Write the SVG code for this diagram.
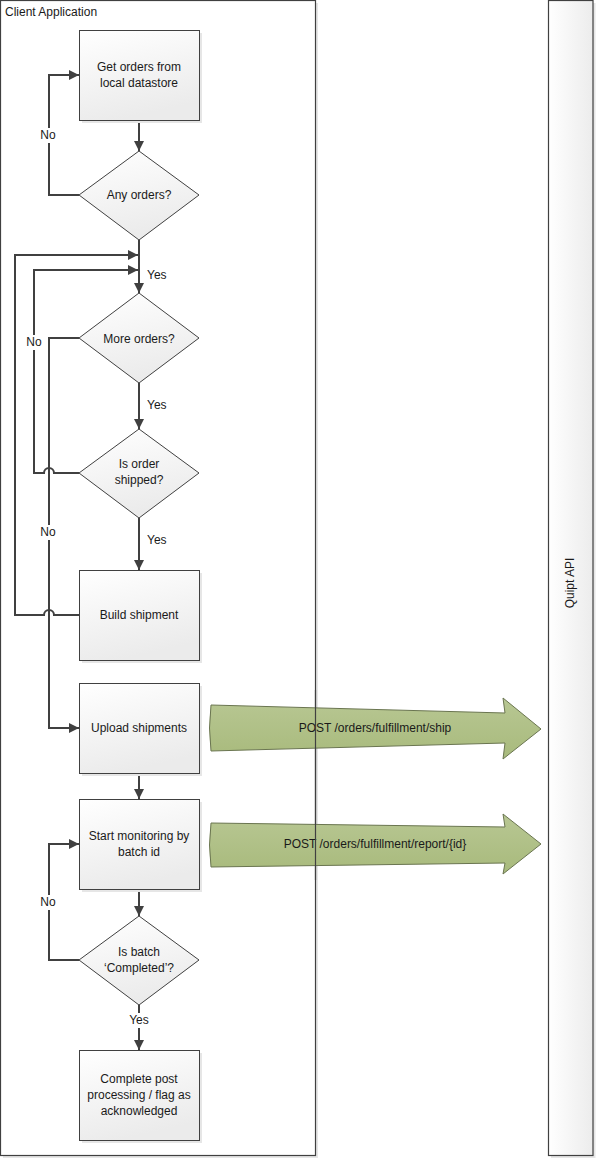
<svg xmlns="http://www.w3.org/2000/svg" width="596" height="1159" viewBox="0 0 596 1159">
<defs>
<linearGradient id="gBox" x1="0" y1="0" x2="0.3" y2="1">
<stop offset="0" stop-color="#ffffff"/>
<stop offset="1" stop-color="#ebebeb"/>
</linearGradient>
<linearGradient id="gLane" x1="0" y1="0" x2="1" y2="0">
<stop offset="0" stop-color="#ffffff"/>
<stop offset="1" stop-color="#ececec"/>
</linearGradient>
<linearGradient id="gGreen" x1="0" y1="0" x2="0" y2="1">
<stop offset="0" stop-color="#b8c793"/>
<stop offset="1" stop-color="#a8ba7c"/>
</linearGradient>
<marker id="ah" viewBox="0 0 10 10" refX="10" refY="5" markerWidth="10" markerHeight="10" markerUnits="userSpaceOnUse" orient="auto">
<path d="M0,0 L10,5 L0,10 Z" fill="#404040"/>
</marker>
<style>
text{font-family:"Liberation Sans",Arial,sans-serif;font-size:12px;fill:#1a1a1a}
.c{text-anchor:middle}
.node{fill:url(#gBox);stroke:#404040;stroke-width:1}
.shadow{fill:#e6e6e6}
.conn{fill:none;stroke:#404040;stroke-width:2}
.lbl{fill:#ffffff}
.green{fill:url(#gGreen);stroke:#6a7550;stroke-width:1}
</style>
</defs>

<g id="lane-client">
<rect x="3" y="3" width="315" height="1155" class="shadow"/>
<rect x="0.5" y="0.5" width="315" height="1155" fill="#ffffff" stroke="#404040" stroke-width="1.2"/>
<text x="5" y="16">Client Application</text>
</g>
<g id="lane-quipt">
<rect x="551" y="3" width="44.5" height="1155" class="shadow"/>
<rect x="548.5" y="0.5" width="44.5" height="1155" fill="url(#gLane)" stroke="#404040" stroke-width="1.2"/>
<text class="c" transform="translate(574,583) rotate(-90)">Quipt API</text>
</g>

<g id="api-arrows">
<g id="api-ship">
<path class="green" d="M211,705 L505,713 L503,698 L541,729 L503,759 L505,743 L211,751 Q208,728 211,705 Z"/>
<text class="c" x="375" y="732">POST /orders/fulfillment/ship</text>
</g>
<g id="api-report">
<path class="green" d="M211,823 L505,827 L503,814 L541,844 L503,874 L505,863 L211,867 Q208,845 211,823 Z"/>
<text class="c" x="375" y="848">POST /orders/fulfillment/report/{id}</text>
</g>
</g>
<line x1="315.5" y1="690" x2="315.5" y2="880" stroke="#404040" stroke-width="1.2"/>

<g id="connectors">
<line class="conn" x1="139" y1="120" x2="139" y2="151" marker-end="url(#ah)"/>
<polyline class="conn" points="79,195 49,195 49,75 79,75" marker-end="url(#ah)"/>
<line class="conn" x1="139" y1="240" x2="139" y2="293" marker-end="url(#ah)"/>
<line class="conn" x1="139" y1="383" x2="139" y2="429" marker-end="url(#ah)"/>
<line class="conn" x1="139" y1="518" x2="139" y2="570" marker-end="url(#ah)"/>
<path class="conn" d="M79,473 L54,473 A5,5 0 0 0 44,473 L34,473 L34,270 L138,270" marker-end="url(#ah)"/>
<path class="conn" d="M79,615 L54,615 A5,5 0 0 0 44,615 L15,615 L15,255 L138,255" marker-end="url(#ah)"/>
<polyline class="conn" points="79,338 49,338 49,728 79,728" marker-end="url(#ah)"/>
<line class="conn" x1="139" y1="773" x2="139" y2="799" marker-end="url(#ah)"/>
<line class="conn" x1="139" y1="889" x2="139" y2="916" marker-end="url(#ah)"/>
<polyline class="conn" points="79,960 49,960 49,844 79,844" marker-end="url(#ah)"/>
<line class="conn" x1="139" y1="1005" x2="139" y2="1050" marker-end="url(#ah)"/>
<rect class="lbl" x="38" y="128" width="22" height="15"/>
<text class="c" x="48" y="139">No</text>
<rect class="lbl" x="23" y="335" width="22" height="15"/>
<text class="c" x="34" y="346">No</text>
<rect class="lbl" x="38" y="525" width="22" height="15"/>
<text class="c" x="48" y="536">No</text>
<rect class="lbl" x="38" y="895" width="22" height="15"/>
<text class="c" x="48" y="906">No</text>
<text x="147" y="279">Yes</text>
<text x="147" y="409">Yes</text>
<text x="147" y="544">Yes</text>
<rect class="lbl" x="127" y="1013" width="24" height="15"/>
<text class="c" x="139" y="1024">Yes</text>
</g>

<g id="n-get-orders">
<rect x="82" y="33" width="120" height="90" class="shadow"/>
<rect x="79.5" y="30.5" width="120" height="90" class="node"/>
<text class="c" x="139" y="71">Get orders from</text>
<text class="c" x="139" y="87">local datastore</text>
</g>
<g id="n-any-orders">
<polygon points="139,151 199,195 139,240 79,195" class="node"/>
<text class="c" x="139" y="199">Any orders?</text>
</g>
<g id="n-more-orders">
<polygon points="139,293 199,338 139,383 79,338" class="node"/>
<text class="c" x="139" y="343">More orders?</text>
</g>
<g id="n-is-shipped">
<polygon points="139,429 199,473 139,518 79,473" class="node"/>
<text class="c" x="139" y="468">Is order</text>
<text class="c" x="139" y="484">shipped?</text>
</g>
<g id="n-build">
<rect x="82" y="573" width="120" height="90" class="shadow"/>
<rect x="79.5" y="570.5" width="120" height="90" class="node"/>
<text class="c" x="139" y="619">Build shipment</text>
</g>
<g id="n-upload">
<rect x="82" y="686" width="120" height="90" class="shadow"/>
<rect x="79.5" y="683.5" width="120" height="90" class="node"/>
<text class="c" x="139" y="732">Upload shipments</text>
</g>
<g id="n-monitor">
<rect x="82" y="802" width="120" height="90" class="shadow"/>
<rect x="79.5" y="799.5" width="120" height="90" class="node"/>
<text class="c" x="139" y="840">Start monitoring by</text>
<text class="c" x="139" y="856">batch id</text>
</g>
<g id="n-batch-completed">
<polygon points="139,916 199,960 139,1005 79,960" class="node"/>
<text class="c" x="139" y="956">Is batch</text>
<text class="c" x="139" y="972">‘Completed’?</text>
</g>
<g id="n-complete">
<rect x="82" y="1053" width="120" height="90" class="shadow"/>
<rect x="79.5" y="1050.5" width="120" height="90" class="node"/>
<text class="c" x="139" y="1083">Complete post</text>
<text class="c" x="139" y="1099">processing / flag as</text>
<text class="c" x="139" y="1115">acknowledged</text>
</g>
</svg>
